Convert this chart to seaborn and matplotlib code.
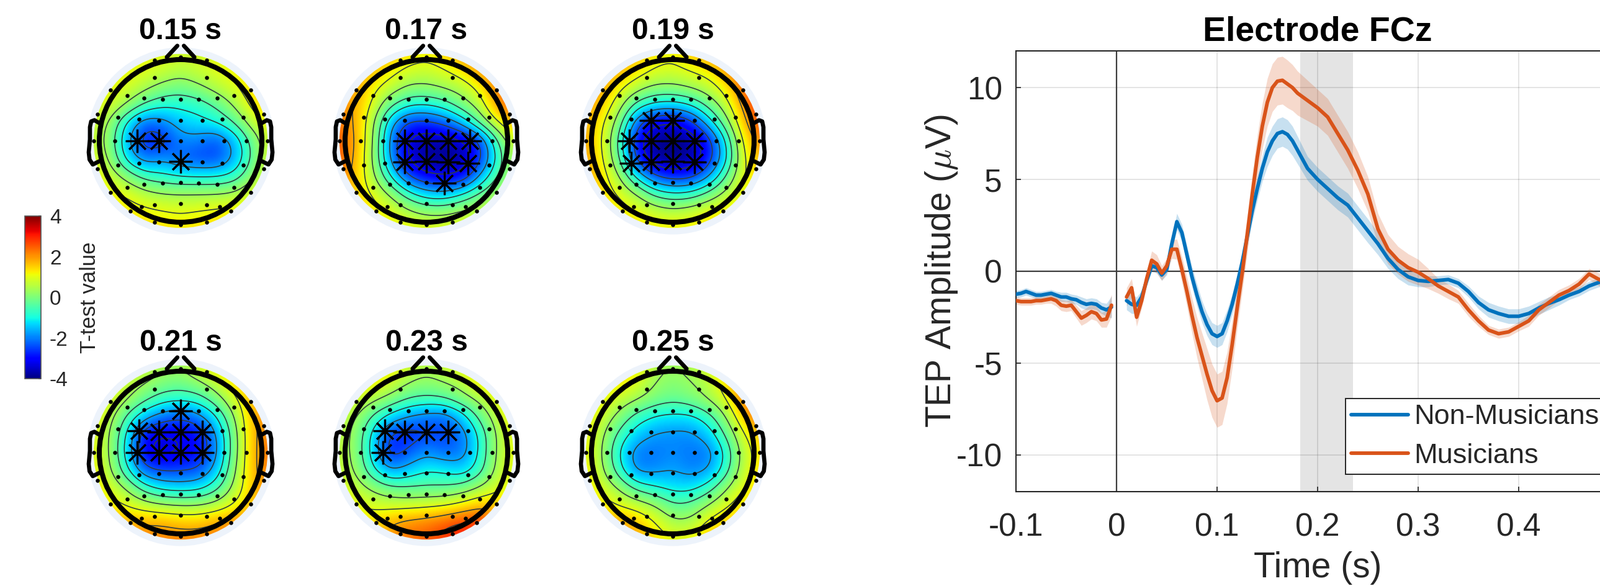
import numpy as np
import pandas as pd
import matplotlib
matplotlib.use("Agg")
import matplotlib.pyplot as plt
from matplotlib.patches import Circle
from matplotlib.cm import ScalarMappable
from matplotlib.colors import Normalize
import seaborn as sns

# --- time course at FCz ---
time_pre = [-0.1, -0.095, -0.09, -0.085, -0.08, -0.075, -0.07, -0.065, -0.06, -0.055,
            -0.05, -0.045, -0.04, -0.035, -0.03, -0.025, -0.02, -0.015, -0.01, -0.005]
nonmus_pre = [-1.25, -1.2, -1.1, -1.2, -1.3, -1.3, -1.25, -1.2, -1.3, -1.4,
              -1.4, -1.5, -1.55, -1.7, -1.8, -1.75, -1.8, -2.0, -2.1, -1.95]
mus_pre = [-1.6, -1.65, -1.65, -1.65, -1.6, -1.6, -1.55, -1.5, -1.6, -1.85,
           -1.9, -1.85, -2.2, -2.55, -2.4, -2.2, -2.3, -2.65, -2.6, -1.85]
nonmus_pre_se = [.2, .2, .2, .2, .2, .2, .2, .2, .2, .25, .25, .25, .25, .3, .3, .3, .3, .3, .35, .6]
mus_pre_se = [.2, .2, .2, .2, .2, .2, .2, .25, .3, .3, .3, .3, .35, .4, .4, .4, .4, .4, .45, .6]

time_post = [.01, .015, .02, .025, .03, .035, .04, .045, .05, .055, .06, .065, .07, .075, .08,
             .085, .09, .095, .1, .105, .11, .115, .12, .125, .13, .135, .14, .145, .15, .155,
             .16, .165, .17, .175, .18, .185, .19, .195, .2,
             .21, .22, .23, .24, .25, .26, .27, .28, .29, .3, .31, .32, .33, .34, .35,
             .36, .37, .38, .39, .4, .41, .42, .43, .44, .45, .46, .47, .48, .49, .5]
nonmus_post = [-1.6, -1.8, -1.85, -1.4, -.5, .3, .2, -.2, .1, 1.5, 2.7, 2.1, .9, -.3, -1.3,
               -2.2, -2.9, -3.4, -3.55, -3.4, -2.7, -1.8, -.7, .5, 1.9, 3.3, 4.5, 5.6, 6.5, 7.1,
               7.5, 7.6, 7.45, 7.1, 6.6, 6.1, 5.6, 5.3, 5.0,
               4.5, 4.0, 3.6, 2.9, 2.2, 1.5, .7, .1, -.3, -.5, -.55, -.5, -.45, -.65, -1.1,
               -1.7, -2.1, -2.3, -2.45, -2.45, -2.3, -2.0, -1.75, -1.55, -1.3, -1.1, -.8, -.6, -.5, -.4]
mus_post = [-1.4, -.9, -2.5, -1.6, -.4, .6, .4, -.1, .3, 1.2, 1.2, .1, -1.1, -2.4, -3.6,
            -4.6, -5.6, -6.5, -7.05, -6.9, -5.8, -4.0, -2.0, -.1, 2.0, 4.2, 6.2, 7.9, 9.2, 10.0,
            10.35, 10.4, 10.2, 10.0, 9.7, 9.5, 9.3, 9.1, 8.9,
            8.4, 7.5, 6.6, 5.5, 4.2, 2.3, 1.2, .6, .2, -.05, -.4, -.8, -1.1, -1.4, -2.1,
            -2.7, -3.2, -3.4, -3.3, -3.0, -2.7, -2.1, -1.7, -1.3, -1.05, -.7, -.15, -.45, -.7, -.8]
nonmus_post_se = [.5, .5, .45, .35, .3, .3, .3, .3, .3, .4, .45, .45, .5, .55, .6,
                  .6, .6, .6, .6, .6, .6, .55, .5, .5, .5, .6, .65, .7, .8, .8,
                  .8, .8, .8, .8, .75, .7, .65, .65, .65,
                  .65, .65, .65, .65, .65, .6, .55, .5, .45, .35, .3, .25, .25, .25, .3,
                  .35, .4, .4, .4, .4, .4, .35, .35, .3, .25, .25, .25, .25, .25, .25]
mus_post_se = [.5, .5, .5, .4, .4, .5, .5, .4, .4, .5, .55, .7, .8, .95, 1.1,
               1.25, 1.4, 1.45, 1.45, 1.45, 1.4, 1.3, 1.1, 1.0, 1.0, 1.1, 1.2, 1.25, 1.3, 1.3,
               1.3, 1.3, 1.3, 1.25, 1.2, 1.15, 1.1, 1.05, 1.0,
               1.0, 1.0, 1.0, 1.0, .95, .85, .8, .75, .75, .7, .55, .4, .4, .35, .35,
               .3, .25, .25, .25, .25, .3, .3, .3, .3, .3, .3, .3, .35, .35, .35]

sig_window = [0.183, 0.235]

# --- electrodes, head radius = 1 ---
elec_x = [-.324, 0, .324, -.324, .324, -.86, .86,
          -.66, -.45, -.225, 0, .225, .45, .66, -1.02, 1.02,
          -.77, -.515, -.265, 0, .265, .515, .77,
          -1.07, -.81, -.535, -.27, 0, .27, .535, .81, 1.07,
          -1.02, -.77, -.515, -.265, 0, .265, .515, .77, 1.02,
          -.66, -.45, -.225, 0, .225, .45, .66, -.86, .86,
          -.48, -.324, 0, .324, .48, -.62, .62, -.324, 0, .324]
elec_y = [.99, 1.03, .99, .78, .78, .625, .625,
          .56, .53, .515, .51, .515, .53, .56, .33, .33,
          .29, .265, .255, .25, .255, .265, .29,
          0, 0, 0, 0, 0, 0, 0, 0, 0,
          -.34, -.295, -.275, -.26, -.255, -.26, -.275, -.295, -.34,
          -.57, -.535, -.52, -.515, -.52, -.535, -.57, -.63, -.63,
          -.81, -.79, -.77, -.79, -.81, -.86, -.86, -1.0, -1.03, -1.0]

# --- t values on an 11x11 grid, x and y from -1.1 to 1.1, top row first ---
tmap_015 = [[1.2, 1.2, 1.2, 1.1, 1, .8, .8, 1, 1.3, 1.5, 1.5],
            [1.2, 1.2, 1.1, 1, .8, .6, .8, 1, 1.2, 1.5, 1.6],
            [1.2, 1.1, .9, .5, .1, -.1, .2, .6, .9, 1.4, 1.6],
            [1, .9, .3, -.5, -.9, -.9, -.8, -.3, .4, 1.2, 1.6],
            [.9, .3, -1.2, -2.3, -2, -1.4, -1.2, -1, -.4, .7, 1.2],
            [.8, .1, -1.6, -2.9, -2.8, -1.9, -2, -2.4, -1.6, -.2, .9],
            [1, .3, -1.3, -2.1, -1.8, -2.3, -2.5, -2.5, -1.7, -.3, 1],
            [1.2, .8, .1, -.6, -.8, -1, -1, -1, -.8, .2, 1],
            [1.3, 1.2, 1, .6, .4, .4, .4, .4, .5, 1, 1.2],
            [1.4, 1.4, 1.3, 1.2, 1.1, 1, 1.1, 1.2, 1.3, 1.3, 1.3],
            [1.4, 1.4, 1.4, 1.4, 1.4, 1.3, 1.4, 1.4, 1.4, 1.4, 1.4]]
tmap_017 = [[1.7, 1.7, 1.7, 1.6, 1.4, 1.2, 1.5, 2, 2.4, 2.5, 2.5],
            [1.8, 1.8, 1.7, 1.3, .9, .8, 1, 1.4, 2, 2.4, 2.6],
            [2, 1.9, 1.2, .7, .2, .2, .4, .6, 1.2, 2.2, 2.7],
            [2.2, 1.8, .9, -.3, -.9, -1, -.7, 0, .6, 2.1, 2.7],
            [2.4, 1.8, .5, -1.6, -2.7, -2.7, -2.3, -1.5, -.2, 1, 1.8],
            [2.6, 1.9, .4, -2, -3.4, -3.7, -3.7, -3.5, -2.6, -.4, 1],
            [2.6, 1.8, .3, -1.9, -3.4, -3.9, -3.9, -3.8, -2.7, -.8, .7],
            [2.4, 1.6, .5, -1, -2.5, -3.1, -3.3, -3.1, -1.6, -.3, .6],
            [2, 1.5, 1, .3, -.7, -1.3, -1.4, -.9, -.2, .4, .8],
            [1.6, 1.5, 1.3, 1, .5, .2, .2, .5, .7, 1, 1.1],
            [1.4, 1.4, 1.4, 1.3, 1.2, 1.1, 1.1, 1.2, 1.2, 1.2, 1.2]]
tmap_019 = [[1.9, 1.9, 1.8, 1.6, 1.3, 1.1, 1.6, 2, 2.4, 2.9, 3.1],
            [2, 2, 1.8, 1.4, 1, .9, 1.1, 1.3, 1.9, 2.8, 3.2],
            [2.1, 1.9, 1.2, .6, .2, .2, .4, .7, 1.3, 2.5, 3.2],
            [2, 1.6, .6, -.7, -1.2, -1.3, -1, -.2, .7, 2.1, 3.1],
            [1.9, 1.2, 0, -2.3, -3.3, -3.4, -2.8, -1.4, 0, 1.7, 2.8],
            [1.9, 1.1, -.5, -3.1, -3.9, -4, -3.8, -2.9, -1, 1.3, 2.2],
            [2, 1.2, -.3, -2.8, -3.8, -4, -3.8, -2.9, -1.2, 1.1, 1.8],
            [2, 1.4, .4, -1.2, -2.4, -2.8, -2.7, -1.8, -.3, 1.1, 1.5],
            [1.8, 1.4, 1, .4, -.5, -.8, -.7, -.1, .6, 1.2, 1.4],
            [1.5, 1.4, 1.3, 1.1, .8, .6, .8, 1.1, 1.3, 1.4, 1.4],
            [1.4, 1.4, 1.4, 1.4, 1.3, 1.3, 1.3, 1.5, 1.6, 1.6, 1.6]]
tmap_021 = [[1.3, 1.3, 1.2, .8, .5, .3, 1, 1.4, 1.7, 2, 2],
            [1.3, 1.2, .7, .4, .1, 0, .3, .8, 1.4, 1.9, 2.1],
            [1.3, 1, .4, -.2, -.7, -.8, -.7, 0, .9, 1.7, 2.2],
            [1.2, .6, -.5, -1.5, -2.1, -2.4, -2, -1.1, .3, 1.7, 2.3],
            [1.1, .4, -1.1, -3.1, -3.3, -3.2, -3, -1.8, 0, 1.7, 2.3],
            [1.1, .4, -1.3, -3.2, -3.5, -3.2, -3, -1.9, 0, 1.7, 2.4],
            [1.2, .5, -.9, -2.3, -2.5, -2.5, -2.4, -1.5, .2, 1.7, 2.3],
            [1.4, .9, .3, -.7, -1.2, -1.3, -1.2, -.6, .5, 1.6, 2.2],
            [1.6, 1.3, 1, .7, .5, .4, .4, .6, 1.1, 1.7, 2.1],
            [1.8, 1.8, 1.9, 1.9, 1.9, 1.7, 1.7, 2, 2.2, 2.1, 2],
            [1.8, 1.9, 2.1, 2.2, 2.2, 2.2, 2.2, 2.2, 2.2, 2.1, 2]]
tmap_023 = [[1.3, 1.4, 1.6, 1.3, .8, .5, .8, 1.2, 1.7, 1.6, 1.6],
            [1.3, 1.3, 1.3, .9, .4, .2, .4, .6, 1.3, 1.5, 1.6],
            [1, .9, .5, .1, -.4, -.5, -.4, .1, .5, 1.1, 1.5],
            [.8, .4, -.5, -1.3, -1.8, -2.1, -2.2, -1.4, -.2, .7, 1.3],
            [.7, .2, -1.2, -2.7, -2.8, -2.5, -2.6, -2.1, -.9, .5, 1.1],
            [.7, .2, -1.3, -2.9, -2.3, -1.8, -2.2, -2.1, -.9, .5, 1.1],
            [.8, .3, -.9, -1.8, -1.4, -1, -1.1, -1.4, -.7, .6, 1.1],
            [1.1, .7, .2, -.2, -.3, -.3, -.3, -.1, .4, .9, 1.2],
            [1.2, 1.1, .9, .8, .8, .9, 1, 1.3, 1.7, 1.6, 1.3],
            [1.3, 1.3, 1.4, 1.9, 2.2, 2.3, 2.6, 2.9, 3, 2.2, 1.5],
            [1.4, 1.4, 1.5, 2, 2.3, 2.5, 2.8, 3.1, 2.7, 2, 1.6]]
tmap_025 = [[1.3, 1.4, 1.6, 1.3, .5, .3, .5, 1, 1.8, 2.3, 2.5],
            [1.3, 1.3, 1.4, 1, .3, .1, .3, .6, 1.4, 2.4, 2.8],
            [1.3, 1.2, .7, .4, 0, -.2, 0, .4, 1, 2.3, 2.9],
            [1.3, .8, .1, -.7, -1.1, -1.2, -1.2, -.7, .3, 1.7, 2.6],
            [1.2, .5, -.6, -1.4, -1.8, -1.9, -1.9, -1.4, -.3, 1, 1.7],
            [1.2, .4, -1.1, -2.1, -2.1, -1.9, -2.1, -2.1, -.9, .7, 1.4],
            [1.3, .5, -.8, -2, -1.9, -1.7, -2, -1.8, -.7, .8, 1.5],
            [1.4, .9, .3, -.6, -.9, -1.2, -1.2, -.7, .3, 1.1, 1.5],
            [1.7, 1.3, 1, .8, .4, -.3, -.2, .4, 1, 1.4, 1.6],
            [1.9, 1.9, 2, 1.7, 1.1, .5, .5, 1.3, 1.6, 1.6, 1.7],
            [1.9, 1.9, 2, 1.9, 1.4, 1.1, 1.2, 1.6, 1.6, 1.6, 1.6]]

# significant electrodes
sig_015 = [(-.535, 0), (-.27, 0), (0, -.255)]
sig_017 = [(-.27, 0), (0, 0), (.27, 0), (.535, 0), (-.265, -.26), (0, -.255), (.265, -.26), (.515, -.275),
           (.225, -.52)]
sig_019 = [(-.265, .255), (0, .25), (-.535, 0), (-.27, 0), (0, 0), (.27, 0),
           (-.515, -.275), (-.265, -.26), (0, -.255), (.265, -.26)]
sig_021 = [(0, .51), (-.515, .265), (-.265, .255), (0, .25), (.265, .255),
           (-.535, 0), (-.27, 0), (0, 0), (.27, 0)]
sig_023 = [(-.515, .265), (-.265, .255), (0, .25), (.265, .255), (-.535, 0)]
sig_025 = []

map_titles = ["0.15 s", "0.17 s", "0.19 s", "0.21 s", "0.23 s", "0.25 s"]
map_values = [tmap_015, tmap_017, tmap_019, tmap_021, tmap_023, tmap_025]
map_sig = [sig_015, sig_017, sig_019, sig_021, sig_023, sig_025]
map_cx = [291, 687, 1084, 291, 687, 1084]
map_cy = [227, 227, 227, 729, 729, 729]

W, H = 2578, 944
R_PX = 131
BLUE = "#0072BD"
ORANGE = "#D95319"
INK = "#262626"

sns.set_theme(style="white")
plt.rcParams["font.family"] = ["Liberation Sans", "DejaVu Sans"]
plt.rcParams["mathtext.fontset"] = "cm"
plt.rcParams["axes.unicode_minus"] = False


def px_axes(fig, x0, y0, x1, y1):
    # pixel box, y measured from the top of the image
    return fig.add_axes([x0 / W, 1 - y1 / H, (x1 - x0) / W, (y1 - y0) / H])


def smooth_grid(values):
    # fine grid for display, like the griddata step of a topoplot
    values = np.array(values, dtype=float)[::-1]
    coarse = np.linspace(-1.1, 1.1, values.shape[0])
    fine = np.arange(-1.1, 1.1001, 0.01)
    z = np.array([np.interp(fine, coarse, row) for row in values])
    z = np.array([np.interp(fine, coarse, col) for col in z.T]).T
    kx = np.arange(-30, 31)
    kernel = np.exp(-0.5 * (kx / 9.0) ** 2)
    kernel /= kernel.sum()
    z = np.pad(z, 30, mode="edge")
    z = np.apply_along_axis(lambda r: np.convolve(r, kernel, mode="same"), 0, z)
    z = np.apply_along_axis(lambda r: np.convolve(r, kernel, mode="same"), 1, z)
    return fine, z[30:-30, 30:-30]


def draw_head(ax, title, values, sig):
    fine, z = smooth_grid(values)
    ax.add_patch(Circle((0, 0), 1.15, fc="#edf3fb", ec="none", zorder=1))
    clip = Circle((0, 0), 1.07, transform=ax.transData)
    im = ax.imshow(z, extent=[-1.1, 1.1, -1.1, 1.1], origin="lower", cmap="jet",
                   vmin=-4, vmax=4, zorder=2, interpolation="bilinear")
    im.set_clip_path(clip)
    cs = ax.contour(fine, fine, z, levels=[-3.2, -2.4, -1.7, -1, -.4, .3, 1, 1.8, 2.6],
                    colors="#2f3f3f", linewidths=1.2, linestyles="solid", zorder=3)
    cs.set_clip_path(Circle((0, 0), 1.03, transform=ax.transData))
    ax.add_patch(Circle((0, 0), 1.0, fc="none", ec="black", lw=5.8, zorder=4))
    for side in (-1, 1):
        ax.plot([side * .04, side * .17], [1.17, 1.03], color="black", lw=4.8,
                solid_capstyle="round", zorder=4)
        ear_x = [1.0, 1.06, 1.10, 1.115, 1.115, 1.13, 1.12, 1.08, 1.0]
        ear_y = [.22, .255, .24, .17, .02, -.14, -.23, -.29, -.25]
        ax.plot(side * np.array(ear_x), ear_y, color="black", lw=4.8,
                solid_capstyle="round", solid_joinstyle="round", zorder=4)
    sns.scatterplot(x=elec_x, y=elec_y, ax=ax, color="black", s=22, linewidth=0, zorder=5, legend=False)
    if sig:
        ax.plot([p[0] for p in sig], [p[1] for p in sig], ls="none", marker=(8, 2, 0),
                ms=27, mew=2.3, color="black", zorder=6)
    ax.text(0, 1.252, title, ha="center", va="baseline", fontsize=34.5, fontweight="bold",
            color="black", clip_on=False, zorder=7)
    ax.set_xlim(-1.35, 1.35)
    ax.set_ylim(-1.35, 1.35)
    ax.set_aspect("equal")
    ax.axis("off")


fig = plt.figure(figsize=(W / 100, H / 100), dpi=100, facecolor="white")

for i in range(6):
    half = 1.35 * R_PX
    ax = px_axes(fig, map_cx[i] - half, map_cy[i] - half, map_cx[i] + half, map_cy[i] + half)
    ax.patch.set_alpha(0)
    draw_head(ax, map_titles[i], map_values[i], map_sig[i])

# colour bar
cax = px_axes(fig, 40, 348, 66, 610)
cb = fig.colorbar(ScalarMappable(Normalize(-4, 4), "jet"), cax=cax)
cb.set_ticks([-4, -2, 0, 2, 4])
cb.ax.tick_params(labelsize=24, length=3, direction="in", labelcolor=INK, color=INK, pad=10)
cb.outline.set_edgecolor("#555555")
cb.outline.set_linewidth(1.2)
cb.set_label("T-test value", fontsize=25, color=INK)
cb.ax.yaxis.set_label_coords(3.4, 0.5)

# time course, the panel runs past the right edge of the image
ax = px_axes(fig, 1637, 82, 2609, 792)
rows = []
for group, seg, t, v, se in [("Non-Musicians", 0, time_pre, nonmus_pre, nonmus_pre_se),
                             ("Non-Musicians", 1, time_post, nonmus_post, nonmus_post_se),
                             ("Musicians", 2, time_pre, mus_pre, mus_pre_se),
                             ("Musicians", 3, time_post, mus_post, mus_post_se)]:
    rows.append(pd.DataFrame({"group": group, "seg": seg, "t": t, "v": v, "se": se}))
    color = BLUE if group == "Non-Musicians" else ORANGE
    ax.fill_between(t, np.array(v) - np.array(se), np.array(v) + np.array(se),
                    color=color, alpha=0.22, lw=0, zorder=2)
df = pd.concat(rows)

ax.axvspan(sig_window[0], sig_window[1], color="#e4e4e4", lw=0, zorder=0.1)
ax.axvline(0, color="#3c3c3c", lw=1.6, zorder=1.5)
ax.axhline(0, color="#3c3c3c", lw=1.6, zorder=1.5)
sns.lineplot(data=df, x="t", y="v", hue="group", units="seg", estimator=None, sort=False,
             palette={"Non-Musicians": BLUE, "Musicians": ORANGE}, lw=4.2, ax=ax, zorder=3)

ax.set_xlim(-0.1, 0.5)
ax.set_ylim(-12, 12)
ax.set_xticks([-0.1, 0, 0.1, 0.2, 0.3, 0.4])
ax.set_xticklabels(["-0.1", "0", "0.1", "0.2", "0.3", "0.4"])
ax.set_yticks([-10, -5, 0, 5, 10])
ax.set_yticklabels(["-10", "-5", "0", "5", "10"])
ax.set_axisbelow(True)
ax.grid(True, color="black", alpha=0.11, lw=1.4)
ax.tick_params(labelsize=37, labelcolor=INK, length=6, direction="in", color=INK, pad=16,
               bottom=True, left=True)
ax.tick_params(axis="x", pad=24)
for s in ax.spines.values():
    s.set_color(INK)
    s.set_linewidth(1.5)
ax.set_xlabel("Time (s)", fontsize=41, color=INK, labelpad=10)
ax.set_ylabel(r"TEP Amplitude ($\mu$V)", fontsize=41, color=INK, labelpad=-4)
ax.set_title("Electrode FCz", fontsize=40, fontweight="bold", color="black", pad=12)

handles, labels = ax.get_legend_handles_labels()
leg = ax.legend(handles, labels, loc="lower left", bbox_to_anchor=(0.546, 0.0394), fontsize=32.5,
                frameon=True, fancybox=False, framealpha=1, edgecolor=INK, borderaxespad=0,
                borderpad=0.2, handlelength=2.05, handletextpad=0.2, labelspacing=0.48)
leg.get_frame().set_linewidth(1.4)
for t in leg.get_texts():
    t.set_color(INK)

fig.savefig("out.png", dpi=100)
